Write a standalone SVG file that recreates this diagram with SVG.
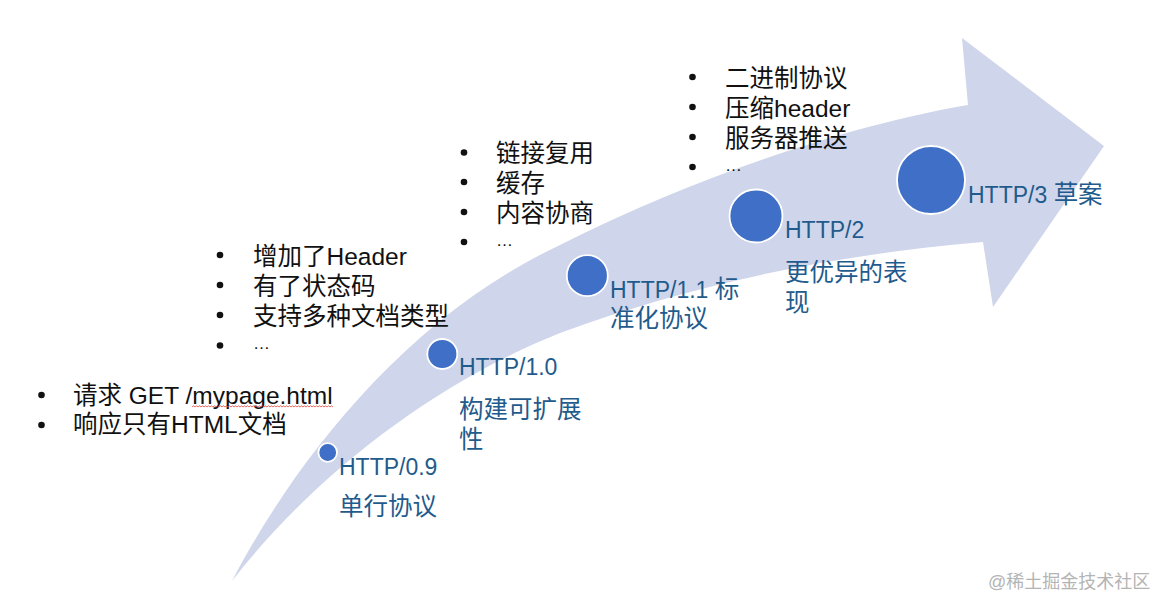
<svg xmlns="http://www.w3.org/2000/svg" width="1154" height="598" viewBox="0 0 1154 598">
  <style>
    .list { font-family: "Liberation Sans", "Noto Sans CJK SC", sans-serif; font-size: 24.5px; fill: #111111; }
    .ell { font-family: "Liberation Sans", sans-serif; font-size: 17px; fill: #111111; }
    .lbl { font-family: "Liberation Sans", "Noto Sans CJK SC", sans-serif; font-size: 23px; fill: #1f5b8c; }
    .cjk { font-size: 24.5px; }
    .dot { fill: #3f6fc6; stroke: #ffffff; stroke-width: 1.8; }
    .bul { fill: #111111; }
    .wm { font-family: "Liberation Sans", "Noto Sans CJK SC", sans-serif; font-size: 18px; fill: #b4b4b4; }
  </style>
  <rect width="1154" height="598" fill="#ffffff"/>

  <g id="arrow">
    <path d="M232,581 C290,470 400,320 560,245 C700,175 850,125 968,105 L962,38 L1104,146 L993,307 L983,242 C830,255 690,285 560,333 C430,385 310,480 232,581 Z" fill="#cfd5ea"/>
  </g>

  <g id="connectors"></g>

  <g id="list-09">
    <circle class="bul" cx="41.5" cy="395" r="3.3"/>
    <circle class="bul" cx="41.5" cy="425" r="3.3"/>
    <text class="list" x="73" y="404">请求 GET /mypage.html</text>
    <text class="list" x="73" y="433">响应只有HTML文档</text>
    <path d="M192,407 l1.5,-1.2 l1.5,1.2 l1.5,-1.2 l1.5,1.2 l1.5,-1.2 l1.5,1.2 l1.5,-1.2 l1.5,1.2 l1.5,-1.2 l1.5,1.2 l1.5,-1.2 l1.5,1.2 l1.5,-1.2 l1.5,1.2 l1.5,-1.2 l1.5,1.2 l1.5,-1.2 l1.5,1.2 l1.5,-1.2 l1.5,1.2 l1.5,-1.2 l1.5,1.2 l1.5,-1.2 l1.5,1.2 l1.5,-1.2 l1.5,1.2 l1.5,-1.2 l1.5,1.2 l1.5,-1.2 l1.5,1.2 l1.5,-1.2 l1.5,1.2 l1.5,-1.2 l1.5,1.2 l1.5,-1.2 l1.5,1.2 l1.5,-1.2 l1.5,1.2 l1.5,-1.2 l1.5,1.2 l1.5,-1.2 l1.5,1.2 l1.5,-1.2 l1.5,1.2 l1.5,-1.2 l1.5,1.2 l1.5,-1.2 l1.5,1.2 l1.5,-1.2 l1.5,1.2 l1.5,-1.2 l1.5,1.2 l1.5,-1.2 l1.5,1.2 l1.5,-1.2 l1.5,1.2 l1.5,-1.2 l1.5,1.2 l1.5,-1.2 l1.5,1.2 l1.5,-1.2 l1.5,1.2 l1.5,-1.2 l1.5,1.2 l1.5,-1.2 l1.5,1.2 l1.5,-1.2 l1.5,1.2 l1.5,-1.2 l1.5,1.2 l1.5,-1.2 l1.5,1.2 l1.5,-1.2 l1.5,1.2 l1.5,-1.2 l1.5,1.2 l1.5,-1.2 l1.5,1.2 l1.5,-1.2 l1.5,1.2 l1.5,-1.2 l1.5,1.2 l1.5,-1.2 l1.5,1.2 l1.5,-1.2 l1.5,1.2 l1.5,-1.2 l1.5,1.2 l1.5,-1.2 l1.5,1.2 l1.5,-1.2 l1.5,1.2 l1.5,-1.2 l1.5,1.2" fill="none" stroke="#e0443c" stroke-width="0.8"/>
  </g>

  <g id="list-10">
    <circle class="bul" cx="220" cy="255" r="3.3"/>
    <circle class="bul" cx="220" cy="285" r="3.3"/>
    <circle class="bul" cx="220" cy="315" r="3.3"/>
    <circle class="bul" cx="220" cy="345.5" r="3.3"/>
    <text class="list" x="253" y="264.5">增加了Header</text>
    <text class="list" x="253" y="294.5">有了状态码</text>
    <text class="list" x="253" y="324.5">支持多种文档类型</text>
    <text class="ell" x="253" y="349">…</text>
  </g>

  <g id="list-11">
    <circle class="bul" cx="464" cy="152.5" r="3.3"/>
    <circle class="bul" cx="464" cy="182" r="3.3"/>
    <circle class="bul" cx="464" cy="212" r="3.3"/>
    <circle class="bul" cx="464" cy="242" r="3.3"/>
    <text class="list" x="496" y="162">链接复用</text>
    <text class="list" x="496" y="191.5">缓存</text>
    <text class="list" x="496" y="221.5">内容协商</text>
    <text class="ell" x="496" y="245.5">…</text>
  </g>

  <g id="list-2">
    <circle class="bul" cx="692.5" cy="77" r="3.3"/>
    <circle class="bul" cx="692.5" cy="107" r="3.3"/>
    <circle class="bul" cx="692.5" cy="137" r="3.3"/>
    <circle class="bul" cx="692.5" cy="167" r="3.3"/>
    <text class="list" x="725" y="86.5">二进制协议</text>
    <text class="list" x="725" y="116.5">压缩header</text>
    <text class="list" x="725" y="146.5">服务器推送</text>
    <text class="ell" x="725" y="170.5">…</text>
  </g>

  <g id="node-http09">
    <circle class="dot" cx="327.7" cy="452.5" r="9.3"/>
    <text class="lbl" x="339" y="475">HTTP/0.9</text>
    <text class="lbl cjk" x="339" y="515">单行协议</text>
  </g>

  <g id="node-http10">
    <circle class="dot" cx="442.3" cy="354" r="15"/>
    <text class="lbl" x="459" y="375">HTTP/1.0</text>
    <text class="lbl cjk" x="459" y="418">构建可扩展</text>
    <text class="lbl cjk" x="459" y="448">性</text>
  </g>

  <g id="node-http11">
    <circle class="dot" cx="587.3" cy="275.7" r="20.5"/>
    <text class="lbl" x="610" y="298">HTTP/1.1 <tspan class="cjk">标</tspan></text>
    <text class="lbl cjk" x="610" y="327">准化协议</text>
  </g>

  <g id="node-http2">
    <circle class="dot" cx="756" cy="216" r="26.5"/>
    <text class="lbl" x="785" y="238">HTTP/2</text>
    <text class="lbl cjk" x="785" y="281">更优异的表</text>
    <text class="lbl cjk" x="785" y="311">现</text>
  </g>

  <g id="node-http3">
    <circle class="dot" cx="931" cy="180" r="34"/>
    <text class="lbl" x="968" y="202.5">HTTP/3 <tspan class="cjk">草案</tspan></text>
  </g>

  <g id="watermark">
    <text class="wm" x="988" y="588">@稀土掘金技术社区</text>
  </g>
</svg>
